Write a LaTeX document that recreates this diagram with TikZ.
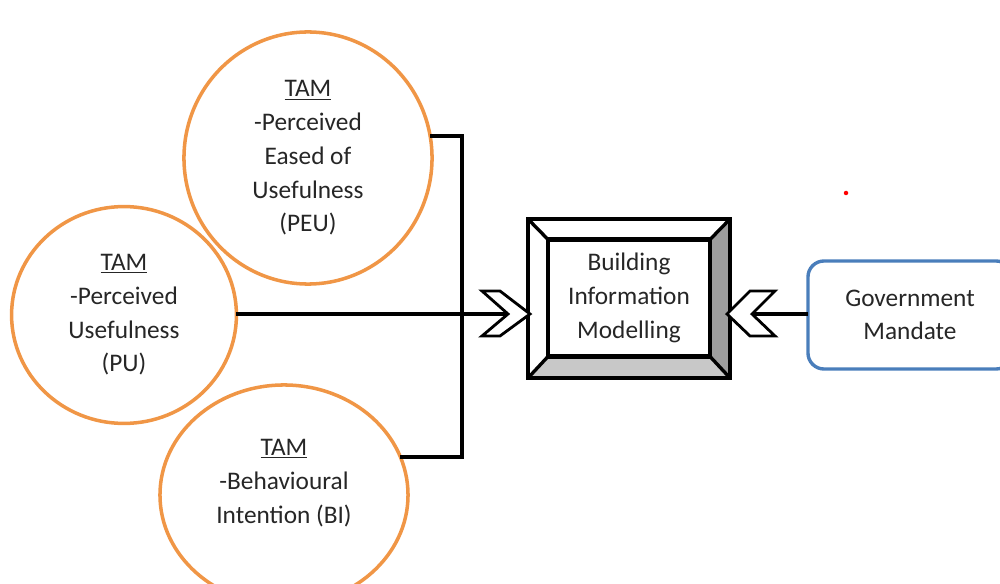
\documentclass[tikz,border=0pt]{standalone}
\usepackage{fontspec}
\setmainfont{Carlito}
\usetikzlibrary{backgrounds, calc, positioning, shapes}

\definecolor{tamorange}{RGB}{240,150,70}
\definecolor{mandateblue}{RGB}{74,126,187}
\definecolor{bevelgray}{RGB}{158,158,158}
\definecolor{bevellight}{RGB}{200,200,200}

\begin{document}
\begin{tikzpicture}[x=0.025cm,y=-0.025cm,font=\fontsize{18}{24}\selectfont]
\tikzset{every node/.style={inner sep=0mm, outer sep=0mm, text=black!85}}

\tikzstyle{tam circle}=[ellipse,draw=tamorange,line width=2.5pt]
\tikzstyle{tam text}=[align=center]
\tikzstyle{bim box}=[rectangle,draw=black,line width=3.2pt]
\tikzstyle{mandate}=[rectangle,draw=mandateblue,line width=2.4pt,rounded corners=0.4cm,fill=white,minimum width=5.1cm,minimum height=2.7cm,align=center]
\tikzstyle{link}=[line width=2.8pt]
\tikzstyle{chevron}=[draw=black,fill=white,line width=2pt,line join=miter]

\useasboundingbox (0,0) rectangle (1000,584);
\clip (0,0) rectangle (1000,584);

\node[tam circle, minimum width=6.2cm, minimum height=6.3cm, tam text] (peu) at (308,158) {\underline{TAM}\\-Perceived\\Eased of\\Usefulness\\(PEU)};
\node[tam circle, minimum width=5.62cm, minimum height=5.42cm, tam text] (pu) at (124,315) {\underline{TAM}\\-Perceived\\Usefulness\\(PU)};
\node[tam circle, minimum width=6.2cm, minimum height=5.5cm] (bi) at (284,495) {};
\node[tam text] (bi text) at (284,483) {\underline{TAM}\\-Behavioural\\Intention (BI)};

\node[bim box, minimum width=5.05cm, minimum height=3.975cm] (bim) at (629,298.5) {};
\node[bim box, minimum width=4.05cm, minimum height=2.925cm, align=center] (bim inner) at (629,298) {Building\\Information\\Modelling};

\begin{scope}[on background layer]
    \fill[bevelgray] (bim.north east) -- (bim.south east) -- (bim inner.south east) -- (bim inner.north east) -- cycle;
    \fill[bevellight] (bim.south east) -- (bim.south west) -- (bim inner.south west) -- (bim inner.south east) -- cycle;
\end{scope}

% bevel corners
\foreach \c in {north west, north east, south east, south west} {
    \draw[line width=2.4pt] (bim.\c) -- (bim inner.\c);
};

\node[mandate] (mandate box) at (910,315) {Government\\Mandate};

\coordinate (left tip) at (530,314);
\coordinate (left notch) at (508,314);
\coordinate (right tip) at (727,314);
\coordinate (right notch) at (752,314);
\coordinate (bar) at (462,314);

\draw[link] (peu.10) -| (bar) |- (bi.18);
\draw[link] (pu.east |- left notch) -- (left notch);
\draw[link] (mandate box.west |- right notch) -- (right notch);

\draw[chevron] (left tip) -- ++(-30,-23) -- ++(-18,0) -- ++(26,23) -- ++(-26,22) -- ++(18,0) -- cycle;
\draw[chevron] (right tip) -- ++(23,-23) -- ++(25,0) -- ++(-23,23) -- ++(23,22) -- ++(-25,0) -- cycle;

\fill[red] (846,193) circle (1.6pt);

\end{tikzpicture}
\end{document}
